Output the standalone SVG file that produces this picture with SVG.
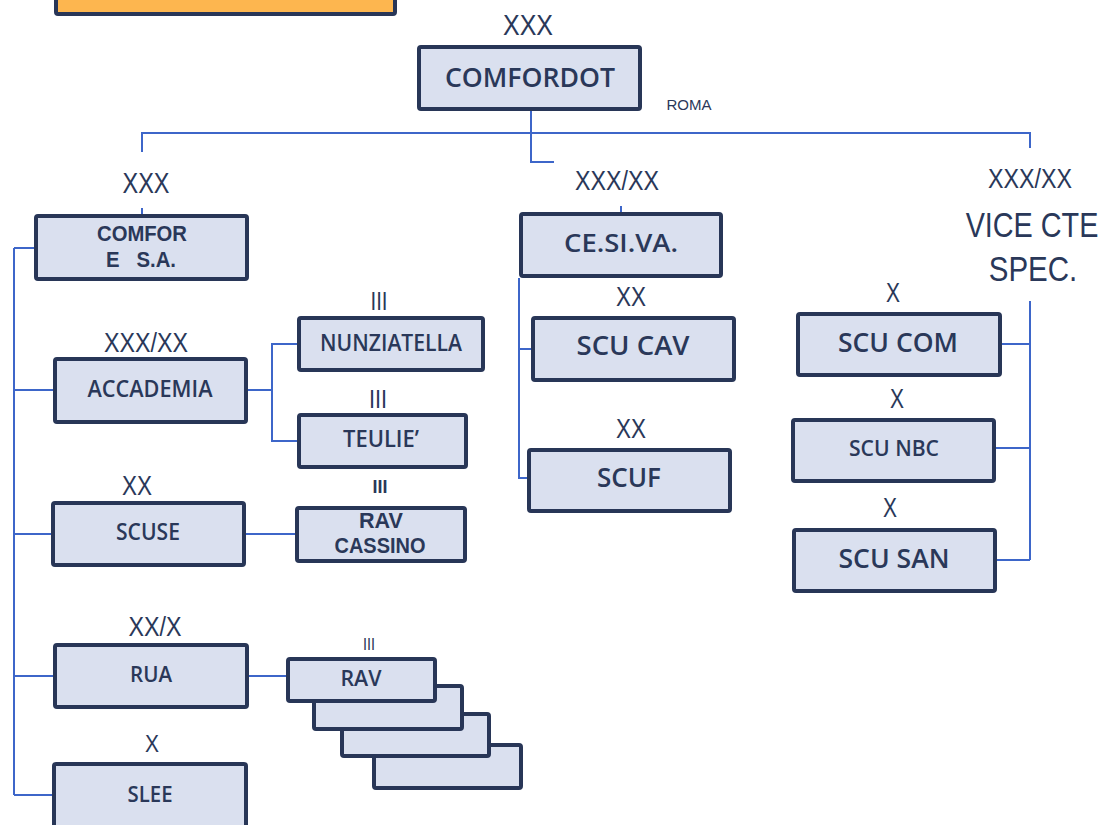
<svg xmlns="http://www.w3.org/2000/svg" width="1109" height="825" viewBox="0 0 1109 825">
<style>
.box{fill:#dae0ef;stroke:#283657;stroke-width:4}
.org{fill:#fdb64f;stroke:#283657;stroke-width:4}
.nl{font-family:"Open Sans","Liberation Sans",sans-serif;font-weight:600;fill:#2a3859;text-anchor:middle}
.nl2{font-family:"Liberation Sans","Open Sans",sans-serif;font-weight:700;fill:#2a3859;text-anchor:middle}
.lb{font-family:"Liberation Sans","Open Sans",sans-serif;font-weight:400;fill:#2a3859;text-anchor:middle}
.lbb{font-family:"Liberation Sans","Open Sans",sans-serif;font-weight:700;fill:#2a3859;text-anchor:middle}
.cn{fill:none;stroke:#3d66c9;stroke-width:2}
</style>
<rect width="1109" height="825" fill="#ffffff"/>
<rect class="org" x="56" y="-40" width="339" height="54" rx="2"/>

<g id="connectors">
<path class="cn" d="M531 111 V162 H554"/>
<path class="cn" d="M142 152 V133 H1030 V148"/>
<path class="cn" d="M142 208 V214"/>
<path class="cn" d="M621 206 V212"/>
<path class="cn" d="M14 248 V795"/>
<path class="cn" d="M14 248 H35 M14 390 H53 M14 534 H52 M14 676 H53 M14 795 H52"/>
<path class="cn" d="M248 390 H272 M298 344 H272 V441 H298"/>
<path class="cn" d="M245 534 H296"/>
<path class="cn" d="M247 676 H287"/>
<path class="cn" d="M519 278 V478 H529 M519 349 H531"/>
<path class="cn" d="M1030 301 V560 M1000 344 H1030 M996 448 H1030 M997 560 H1030"/>
</g>

<g id="comfordot">
<text class="lb" x="528" y="35" font-size="30" textLength="50" lengthAdjust="spacingAndGlyphs">XXX</text>
<rect class="box" x="419" y="47" width="221" height="62" rx="2"/>
<text class="nl" x="530" y="87" font-size="27" textLength="170" lengthAdjust="spacingAndGlyphs">COMFORDOT</text>
<text class="lb" x="689" y="110" font-size="15" fill="#3d4a6b" textLength="45" lengthAdjust="spacingAndGlyphs">ROMA</text>
</g>

<g id="comfor">
<text class="lb" x="146" y="193" font-size="29" textLength="47" lengthAdjust="spacingAndGlyphs">XXX</text>
<rect class="box" x="36" y="216" width="211" height="63" rx="2"/>
<text class="nl2" x="142" y="241" font-size="22" textLength="90" lengthAdjust="spacingAndGlyphs">COMFOR</text>
<text class="nl2" x="141" y="267" font-size="22" xml:space="preserve" style="white-space:pre" textLength="70" lengthAdjust="spacingAndGlyphs">E   S.A.</text>
</g>

<g id="accademia">
<text class="lb" x="146" y="352" font-size="28" textLength="84" lengthAdjust="spacingAndGlyphs">XXX/XX</text>
<rect class="box" x="55" y="359" width="191" height="63" rx="2"/>
<text class="nl" x="150" y="397" font-size="23" textLength="125" lengthAdjust="spacingAndGlyphs">ACCADEMIA</text>
</g>

<g id="nunziatella">
<text class="lb" x="379" y="310" font-size="26" textLength="17" lengthAdjust="spacingAndGlyphs">III</text>
<rect class="box" x="299" y="318" width="184" height="52" rx="2"/>
<text class="nl" x="391" y="351" font-size="23" textLength="142" lengthAdjust="spacingAndGlyphs">NUNZIATELLA</text>
</g>

<g id="teulie">
<text class="lb" x="378" y="408" font-size="26" textLength="18" lengthAdjust="spacingAndGlyphs">III</text>
<rect class="box" x="299" y="415" width="167" height="52" rx="2"/>
<text class="nl" x="381" y="447" font-size="23" textLength="76" lengthAdjust="spacingAndGlyphs">TEULIE’</text>
</g>

<g id="scuse">
<text class="lb" x="137" y="495" font-size="28" textLength="30" lengthAdjust="spacingAndGlyphs">XX</text>
<rect class="box" x="53" y="503" width="191" height="62" rx="2"/>
<text class="nl" x="148" y="540" font-size="23" textLength="64" lengthAdjust="spacingAndGlyphs">SCUSE</text>
</g>

<g id="rav-cassino">
<text class="lbb" x="380" y="493" font-size="18" textLength="15" lengthAdjust="spacingAndGlyphs">III</text>
<rect class="box" x="297" y="508" width="168" height="53" rx="2"/>
<text class="nl2" x="381" y="528" font-size="21.5" textLength="44" lengthAdjust="spacingAndGlyphs">RAV</text>
<text class="nl2" x="380" y="553" font-size="21.5" textLength="91" lengthAdjust="spacingAndGlyphs">CASSINO</text>
</g>

<g id="rua">
<text class="lb" x="155" y="636" font-size="27" textLength="53" lengthAdjust="spacingAndGlyphs">XX/X</text>
<rect class="box" x="55" y="645" width="192" height="62" rx="2"/>
<text class="nl" x="151" y="682" font-size="22" textLength="42" lengthAdjust="spacingAndGlyphs">RUA</text>
</g>

<g id="rav">
<text class="lb" x="369" y="650" font-size="17" textLength="12" lengthAdjust="spacingAndGlyphs">III</text>
<rect class="box" x="374" y="745" width="147" height="43" rx="2"/>
<rect class="box" x="342" y="714" width="147" height="42" rx="2"/>
<rect class="box" x="314" y="686" width="148" height="43" rx="2"/>
<rect class="box" x="288" y="659" width="147" height="42" rx="2"/>
<text class="nl" x="361" y="686" font-size="21" textLength="41" lengthAdjust="spacingAndGlyphs">RAV</text>
</g>

<g id="slee">
<text class="lb" x="152" y="752" font-size="23" textLength="14" lengthAdjust="spacingAndGlyphs">X</text>
<rect class="box" x="54" y="764" width="192" height="80" rx="2"/>
<text class="nl" x="150" y="802" font-size="22" textLength="45" lengthAdjust="spacingAndGlyphs">SLEE</text>
</g>

<g id="cesiva">
<text class="lb" x="617" y="190" font-size="28" textLength="84" lengthAdjust="spacingAndGlyphs">XXX/XX</text>
<rect class="box" x="521" y="214" width="200" height="62" rx="2"/>
<text class="nl" x="621" y="252" font-size="26" textLength="114" lengthAdjust="spacingAndGlyphs">CE.SI.VA.</text>
</g>

<g id="scu-cav">
<text class="lb" x="631" y="306" font-size="28" textLength="30" lengthAdjust="spacingAndGlyphs">XX</text>
<rect class="box" x="533" y="318" width="201" height="62" rx="2"/>
<text class="nl" x="633" y="355" font-size="27" textLength="113" lengthAdjust="spacingAndGlyphs">SCU CAV</text>
</g>

<g id="scuf">
<text class="lb" x="631" y="438" font-size="28" textLength="30" lengthAdjust="spacingAndGlyphs">XX</text>
<rect class="box" x="529" y="450" width="201" height="61" rx="2"/>
<text class="nl" x="629" y="487" font-size="27" textLength="64" lengthAdjust="spacingAndGlyphs">SCUF</text>
</g>

<g id="vice-cte">
<text class="lb" x="1030" y="188" font-size="28" textLength="84" lengthAdjust="spacingAndGlyphs">XXX/XX</text>
<text class="lb" transform="translate(1032 237) scale(0.8 1)" x="0" y="0" font-size="36">VICE CTE</text>
<text class="lb" transform="translate(1033 281) scale(0.82 1)" x="0" y="0" font-size="36">SPEC.</text>
</g>

<g id="scu-com">
<text class="lb" x="893" y="302" font-size="27" textLength="14" lengthAdjust="spacingAndGlyphs">X</text>
<rect class="box" x="798" y="314" width="202" height="61" rx="2"/>
<text class="nl" x="898" y="352" font-size="27" textLength="120" lengthAdjust="spacingAndGlyphs">SCU COM</text>
</g>

<g id="scu-nbc">
<text class="lb" x="897" y="408" font-size="27" textLength="14" lengthAdjust="spacingAndGlyphs">X</text>
<rect class="box" x="793" y="420" width="201" height="61" rx="2"/>
<text class="nl" x="894" y="456" font-size="22" textLength="90" lengthAdjust="spacingAndGlyphs">SCU NBC</text>
</g>

<g id="scu-san">
<text class="lb" x="890" y="517" font-size="27" textLength="14" lengthAdjust="spacingAndGlyphs">X</text>
<rect class="box" x="794" y="530" width="201" height="61" rx="2"/>
<text class="nl" x="894" y="568" font-size="27" textLength="111" lengthAdjust="spacingAndGlyphs">SCU SAN</text>
</g>
</svg>
